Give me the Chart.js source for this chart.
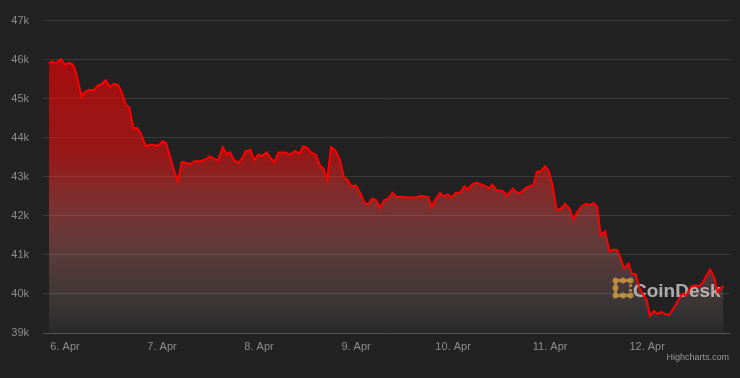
<!DOCTYPE html>
<html>
<head>
<meta charset="utf-8">
<script src="https://cdn.jsdelivr.net/npm/chart.js@4.4.0/dist/chart.umd.min.js"></script>
<style>
    html, body { margin: 0; padding: 0; background: #222222; }
    #wrap { width: 740px; height: 378px; position: relative; }
</style>
</head>
<body>
<div id="wrap"><canvas id="myChart"></canvas></div>
<script>
// hours since 6. Apr 00:00
var hours = [-4.0,-3.2,-2.7,-2.1,-1.0,0,1.1,2.1,2.9,4.1,
    4.9,6.0,7.0,8.2,9.1,10.1,11.1,12.1,13.2,14.0,
    15.1,15.9,16.9,17.7,18.6,20.0,21.0,22.3,23.1,24.1,
    25.0,26.0,27.0,27.9,28.9,29.9,30.9,32.0,33.4,34.6,
    35.9,36.9,37.9,39.0,40.0,40.8,41.9,42.9,43.9,44.7,
    45.9,46.8,47.8,48.8,49.9,51.0,51.8,52.8,54.4,55.7,
    56.9,57.9,59.0,59.9,61.0,62.0,63.1,63.9,64.9,65.8,
    66.8,67.9,69.0,69.8,70.9,71.9,73.0,74.0,74.9,76.0,
    76.9,77.9,79.0,80.0,81.0,82.1,83.7,85.4,87.0,87.8,
    88.6,89.9,90.7,91.5,92.8,93.6,94.7,95.7,96.7,97.7,
    98.8,99.6,100.8,101.9,103.1,104.3,104.9,105.7,106.8,107.9,
    108.7,109.4,110.8,111.8,112.7,113.8,115.0,115.9,116.7,117.7,
    118.8,119.7,120.7,121.6,122.6,123.7,124.8,125.8,126.7,127.8,
    128.9,129.7,130.7,131.7,132.5,133.6,134.7,135.6,136.6,137.3,
    138.3,139.4,140.2,141.2,142.0,143.1,143.9,144.7,145.7,146.5,
    147.6,148.6,149.5,150.7,151.7,152.8,153.6,154.8,155.9,156.9,
    157.9,158.7,159.6,160.6,161.4,162.2,162.9];

var prices = [45910,45950,45930,45920,46010,45870,45930,45850,45600,45060,
    45170,45230,45210,45340,45380,45470,45300,45380,45340,45170,
    44830,44780,44230,44260,44140,43780,43820,43810,43790,43910,
    43860,43500,43160,42890,43380,43360,43320,43400,43400,43440,
    43520,43460,43420,43760,43570,43630,43420,43350,43490,43660,
    43690,43420,43570,43530,43630,43460,43380,43620,43620,43570,
    43660,43590,43780,43740,43610,43570,43290,43210,42930,43760,
    43680,43460,42990,42930,42750,42780,42590,42350,42290,42440,
    42410,42200,42400,42440,42590,42480,42480,42470,42470,42510,
    42500,42480,42220,42400,42590,42500,42550,42470,42590,42590,
    42760,42670,42810,42850,42800,42740,42700,42800,42650,42650,
    42590,42520,42700,42590,42590,42700,42760,42800,43120,43150,
    43270,43140,42740,42160,42170,42310,42180,41910,42100,42240,
    42310,42270,42330,42230,41500,41600,41090,41140,41120,40950,
    40650,40780,40520,40500,40180,39970,39840,39430,39570,39480,
    39540,39480,39470,39650,39840,40010,39950,40180,40220,40200,
    40310,40480,40620,40420,40050,40140,40200];

var dayLabels = ['6. Apr', '7. Apr', '8. Apr', '9. Apr', '10. Apr', '11. Apr', '12. Apr'];
var yTicks = [39000, 40000, 41000, 42000, 43000, 44000, 45000, 46000, 47000];

var fonte = '"Liberation Sans", Arial, Helvetica, sans-serif';

var pontos = [];
for (var i = 0; i < hours.length; i++) {
    pontos.push({ x: hours[i], y: prices[i] });
}

function gradiente(context) {
    var chart = context.chart;
    var area = chart.chartArea;
    if (!area) return 'rgba(255,0,0,0.5)';
    var topo = chart.scales.y.getPixelForValue(Math.max.apply(null, prices));
    var g = chart.ctx.createLinearGradient(0, topo, 0, area.bottom);
    g.addColorStop(0, 'rgba(255, 0, 0, 0.6)');
    g.addColorStop(0.35, 'rgba(255, 15, 15, 0.53)');
    g.addColorStop(0.57, 'rgba(255, 80, 80, 0.38)');
    g.addColorStop(0.78, 'rgba(255, 150, 150, 0.2)');
    g.addColorStop(1, 'rgba(255, 255, 255, 0.03)');
    return g;
}

// marca d'agua CoinDesk + credito
const extras = {
    id: 'extras',
    beforeDatasetsDraw: function (chart) {
        var ctx = chart.ctx;
        ctx.save();
        // icone de pontos
        var bx = 615.5, by = 280.5, d = 7.5;
        ctx.strokeStyle = 'rgba(180, 138, 45, 0.9)';
        ctx.fillStyle = 'rgba(180, 138, 45, 0.9)';
        ctx.lineWidth = 3;
        ctx.beginPath();
        ctx.moveTo(bx + 2 * d, by);
        ctx.lineTo(bx, by);
        ctx.lineTo(bx, by + 2 * d);
        ctx.lineTo(bx + 2 * d, by + 2 * d);
        ctx.stroke();
        var dots = [[0,0],[1,0],[2,0],[0,1],[0,2],[1,2],[2,2]];
        dots.forEach(function (p) {
            ctx.beginPath();
            ctx.arc(bx + p[0] * d, by + p[1] * d, 3, 0, Math.PI * 2);
            ctx.fill();
        });
        ctx.beginPath(); ctx.arc(bx + 2 * d, by + d - 2.3, 1.6, 0, Math.PI * 2); ctx.fill();
        ctx.beginPath(); ctx.arc(bx + 2 * d, by + d + 2.3, 1.6, 0, Math.PI * 2); ctx.fill();
        // texto
        ctx.fillStyle = 'rgba(230, 230, 230, 0.7)';
        ctx.font = 'bold 19px ' + fonte;
        ctx.textBaseline = 'alphabetic';
        ctx.textAlign = 'left';
        ctx.fillText('CoinDesk', 633, 297);
        ctx.restore();
    },
    afterDraw: function (chart) {
        var ctx = chart.ctx;
        ctx.save();
        ctx.fillStyle = '#999999';
        ctx.font = '9px ' + fonte;
        ctx.textAlign = 'right';
        ctx.textBaseline = 'middle';
        ctx.fillText('Highcharts.com', 729, 358);
        ctx.restore();
    }
};

const config = {
    type: 'line',
    data: {
        datasets: [{
            label: 'BTC',
            data: pontos,
            borderColor: '#ff0000',
            borderWidth: 2,
            pointRadius: 0,
            tension: 0,
            fill: 'start',
            backgroundColor: gradiente
        }]
    },
    options: {
        responsive: false,
        animation: false,
        layout: { padding: { top: 20, right: 10, left: 0, bottom: 0 } },
        plugins: {
            legend: { display: false },
            tooltip: { enabled: false }
        },
        scales: {
            x: {
                type: 'linear',
                min: -5.44,
                max: 164.5,
                afterBuildTicks: function (axis) {
                    axis.ticks = dayLabels.map(function (l, i) { return { value: i * 24 }; });
                },
                afterFit: function (axis) { axis.height = 45; },
                grid: { display: false, drawTicks: false },
                border: { display: false },
                ticks: {
                    padding: 7,
                    color: '#8c8c8c',
                    font: { family: fonte, size: 11 },
                    maxRotation: 0,
                    autoSkip: false,
                    callback: function (v) { return dayLabels[Math.round(v / 24)]; }
                }
            },
            y: {
                min: 39000,
                max: 47000,
                afterBuildTicks: function (axis) {
                    axis.ticks = yTicks.map(function (v) { return { value: v }; });
                },
                afterFit: function (axis) { axis.width = 43; },
                grid: {
                    drawTicks: false,
                    color: function (c) { return c.index === 0 ? '#555555' : '#3b3b3b'; },
                    lineWidth: 1
                },
                border: { display: false },
                ticks: {
                    padding: 14,
                    color: '#8c8c8c',
                    font: { family: fonte, size: 11 },
                    callback: function (v) { return (v / 1000) + 'k'; }
                }
            }
        }
    },
    plugins: [extras]
};

var canvas = document.getElementById('myChart');
canvas.width = 740;
canvas.height = 378;
const myChart = new Chart(canvas, config);
</script>
</body>
</html>
